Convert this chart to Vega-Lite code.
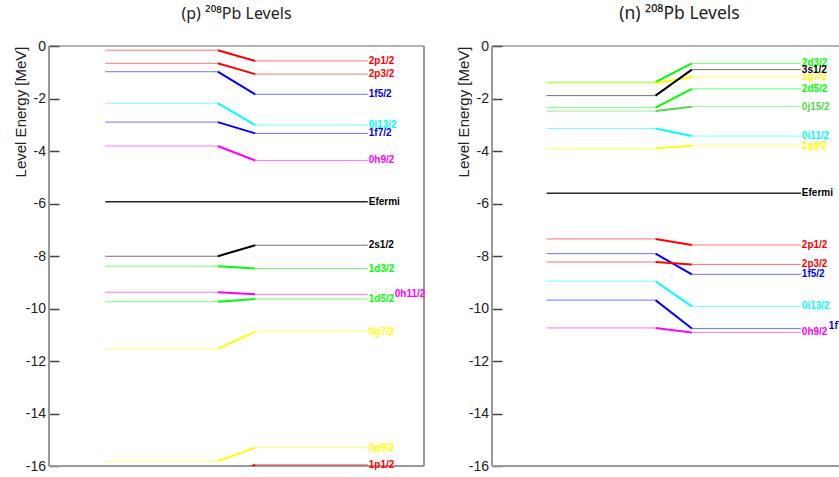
{
  "$schema": "https://vega.github.io/schema/vega-lite/v6.json",
  "padding": {"left": 13, "top": 4, "right": 0, "bottom": 0},
  "spacing": 30,
  "config": {
    "font": "Liberation Sans",
    "view": {"stroke": null},
    "axisY": {"grid": false, "domain": false, "ticks": true, "tickColor": "#444444", "tickWidth": 1.5, "tickSize": 10, "offset": -10, "labelFont": "Liberation Sans", "labelFontSize": 14, "labelColor": "#222222", "labelPadding": 3.5, "titleFont": "Liberation Sans", "titleFontSize": 15, "titleFontWeight": "normal", "titleColor": "#222222", "titleAnchor": "end", "titlePadding": -3},
    "axisX": {"grid": false, "domain": false, "ticks": false, "labels": false},
    "title": {"font": "Noto Sans", "fontSize": 16, "fontWeight": "normal", "color": "#222222", "anchor": "middle", "offset": 17},
    "text": {"font": "Liberation Sans"}
  },
  "datasets": {
    "levels": [
      {"panel": "p", "level": "2p1/2", "l": "p", "left": -0.16, "right": -0.57},
      {"panel": "p", "level": "2p3/2", "l": "p", "left": -0.66, "right": -1.07},
      {"panel": "p", "level": "1f5/2", "l": "f", "left": -0.98, "right": -1.84},
      {"panel": "p", "level": "0i13/2", "l": "i", "left": -2.18, "right": -3.01},
      {"panel": "p", "level": "1f7/2", "l": "f", "left": -2.90, "right": -3.33},
      {"panel": "p", "level": "0h9/2", "l": "h", "left": -3.81, "right": -4.36},
      {"panel": "p", "level": "Efermi", "l": "F", "left": -5.93, "right": -5.93},
      {"panel": "p", "level": "2s1/2", "l": "s", "left": -8.01, "right": -7.59},
      {"panel": "p", "level": "1d3/2", "l": "d", "left": -8.39, "right": -8.48},
      {"panel": "p", "level": "0h11/2", "l": "h", "left": -9.38, "right": -9.46},
      {"panel": "p", "level": "1d5/2", "l": "d", "left": -9.74, "right": -9.64},
      {"panel": "p", "level": "0g7/2", "l": "g", "left": -11.54, "right": -10.88},
      {"panel": "p", "level": "0g9/2", "l": "g", "left": -15.82, "right": -15.30},
      {"panel": "p", "level": "1p1/2", "l": "p", "left": -16.6, "right": -15.95},
      {"panel": "n", "level": "2d3/2", "l": "d", "left": -1.38, "right": -0.66},
      {"panel": "n", "level": "1g7/2", "l": "g", "left": -1.42, "right": -1.18},
      {"panel": "n", "level": "3s1/2", "l": "s", "left": -1.89, "right": -0.90},
      {"panel": "n", "level": "2d5/2", "l": "d", "left": -2.35, "right": -1.63},
      {"panel": "n", "level": "0j15/2", "l": "j", "left": -2.48, "right": -2.31},
      {"panel": "n", "level": "0i11/2", "l": "i", "left": -3.14, "right": -3.43},
      {"panel": "n", "level": "1g9/2", "l": "g", "left": -3.90, "right": -3.80},
      {"panel": "n", "level": "Efermi", "l": "F", "left": -5.61, "right": -5.61},
      {"panel": "n", "level": "2p1/2", "l": "p", "left": -7.35, "right": -7.58},
      {"panel": "n", "level": "1f5/2", "l": "f", "left": -7.91, "right": -8.70},
      {"panel": "n", "level": "2p3/2", "l": "p", "left": -8.23, "right": -8.32},
      {"panel": "n", "level": "0i13/2", "l": "i", "left": -8.96, "right": -9.92},
      {"panel": "n", "level": "1f7/2", "l": "f", "left": -9.68, "right": -10.76},
      {"panel": "n", "level": "0h9/2", "l": "h", "left": -10.74, "right": -10.91}
    ]
  },
  "hconcat": [
    {
      "width": 375,
      "height": 420,
      "title": {"text": "(p)  ²⁰⁸Pb Levels"},
      "data": {"name": "levels"},
      "transform": [{"filter": "datum.panel === 'p'"}],
      "layer": [
        {
          "data": {"values": [{}]},
          "mark": {"type": "rule", "color": "#666666", "strokeWidth": 1},
          "encoding": {
            "y": {"datum": 0, "type": "quantitative", "scale": {"domain": [-16, 0], "nice": false, "zero": false}, "title": "Level Energy [MeV]",
              "axis": {"values": [0, -0.5, -1, -1.5, -2, -2.5, -3, -3.5, -4, -4.5, -5, -5.5, -6, -6.5, -7, -7.5, -8, -8.5, -9, -9.5, -10, -10.5, -11, -11.5, -12, -12.5, -13, -13.5, -14, -14.5, -15, -15.5, -16],
                "labelExpr": "datum.value % 2 === 0 ? '' + datum.value : ''",
                "tickDash": {"condition": {"test": "datum.value % 2 === 0", "value": [10, 0]}, "value": [0, 5, 5, 100]}}}
          }
        },
        {
          "data": {"values": [{}]},
          "mark": {"type": "rule", "color": "#999999", "strokeWidth": 2},
          "encoding": {
            "y": {"datum": -16, "type": "quantitative", "title": "Level Energy [MeV]"}
          }
        },
        {
          "data": {"values": [{}]},
          "mark": {"type": "rule", "color": "#999999", "strokeWidth": 2},
          "encoding": {
            "x": {"datum": 0, "type": "quantitative", "scale": {"domain": [0, 1], "nice": false, "zero": false}}
          }
        },
        {
          "data": {"values": [{}]},
          "mark": {"type": "rule", "color": "#999999", "strokeWidth": 2},
          "encoding": {
            "x": {"datum": 1, "type": "quantitative", "scale": {"domain": [0, 1], "nice": false, "zero": false}}
          }
        },
        {
          "transform": [{"filter": "datum.level !== 'Efermi'"}],
          "mark": {"type": "rule", "strokeWidth": 1, "opacity": 0.55, "clip": true},
          "encoding": {
            "x": {"datum": 0.15, "type": "quantitative", "scale": {"domain": [0, 1], "nice": false, "zero": false}},
            "x2": {"datum": 0.45},
            "y": {"field": "left", "type": "quantitative", "title": "Level Energy [MeV]"},
            "color": {"field": "l", "type": "nominal", "legend": null, "scale": {"domain": ["s", "p", "d", "f", "g", "h", "i", "j", "F"], "range": ["#000000", "#ff0000", "#00ff00", "#0000ff", "#ffff00", "#ff00ff", "#00ffff", "#59d454", "#000000"]}}
          }
        },
        {
          "transform": [{"filter": "datum.level !== 'Efermi'"}],
          "mark": {"type": "rule", "strokeWidth": 1, "opacity": 0.55, "clip": true},
          "encoding": {
            "x": {"datum": 0.55, "type": "quantitative", "scale": {"domain": [0, 1], "nice": false, "zero": false}},
            "x2": {"datum": 0.85},
            "y": {"field": "right", "type": "quantitative", "title": "Level Energy [MeV]"},
            "color": {"field": "l", "type": "nominal", "legend": null, "scale": {"domain": ["s", "p", "d", "f", "g", "h", "i", "j", "F"], "range": ["#000000", "#ff0000", "#00ff00", "#0000ff", "#ffff00", "#ff00ff", "#00ffff", "#59d454", "#000000"]}}
          }
        },
        {
          "transform": [{"filter": "datum.level === 'Efermi'"}],
          "mark": {"type": "rule", "strokeWidth": 1.5, "opacity": 0.85, "clip": true},
          "encoding": {
            "x": {"datum": 0.15, "type": "quantitative", "scale": {"domain": [0, 1], "nice": false, "zero": false}},
            "x2": {"datum": 0.85},
            "y": {"field": "right", "type": "quantitative", "title": "Level Energy [MeV]"},
            "color": {"field": "l", "type": "nominal", "legend": null, "scale": {"domain": ["s", "p", "d", "f", "g", "h", "i", "j", "F"], "range": ["#000000", "#ff0000", "#00ff00", "#0000ff", "#ffff00", "#ff00ff", "#00ffff", "#59d454", "#000000"]}}
          }
        },
        {
          "transform": [{"filter": "datum.level !== 'Efermi'"}],
          "mark": {"type": "rule", "strokeWidth": 2, "clip": true},
          "encoding": {
            "x": {"datum": 0.45, "type": "quantitative", "scale": {"domain": [0, 1], "nice": false, "zero": false}},
            "x2": {"datum": 0.55},
            "y": {"field": "left", "type": "quantitative", "title": "Level Energy [MeV]"},
            "y2": {"field": "right"},
            "color": {"field": "l", "type": "nominal", "legend": null, "scale": {"domain": ["s", "p", "d", "f", "g", "h", "i", "j", "F"], "range": ["#000000", "#ff0000", "#00ff00", "#0000ff", "#ffff00", "#ff00ff", "#00ffff", "#59d454", "#000000"]}}
          }
        },
        {
          "transform": [{"filter": "datum.level !== '0h11/2'"}],
          "mark": {"type": "text", "align": "left", "baseline": "middle", "dx": 1, "fontSize": 10, "fontWeight": "bold"},
          "encoding": {
            "x": {"datum": 0.85, "type": "quantitative", "scale": {"domain": [0, 1], "nice": false, "zero": false}},
            "y": {"field": "right", "type": "quantitative", "title": "Level Energy [MeV]"},
            "text": {"field": "level"},
            "color": {"field": "l", "type": "nominal", "legend": null, "scale": {"domain": ["s", "p", "d", "f", "g", "h", "i", "j", "F"], "range": ["#000000", "#ff0000", "#00ff00", "#0000ff", "#ffff00", "#ff00ff", "#00ffff", "#59d454", "#000000"]}}
          }
        },
        {
          "transform": [{"filter": "datum.level === '0h11/2'"}],
          "mark": {"type": "text", "align": "left", "baseline": "middle", "dx": 27, "fontSize": 10, "fontWeight": "bold"},
          "encoding": {
            "x": {"datum": 0.85, "type": "quantitative", "scale": {"domain": [0, 1], "nice": false, "zero": false}},
            "y": {"field": "right", "type": "quantitative", "title": "Level Energy [MeV]"},
            "text": {"field": "level"},
            "color": {"field": "l", "type": "nominal", "legend": null, "scale": {"domain": ["s", "p", "d", "f", "g", "h", "i", "j", "F"], "range": ["#000000", "#ff0000", "#00ff00", "#0000ff", "#ffff00", "#ff00ff", "#00ffff", "#59d454", "#000000"]}}
          }
        }
      ]
    },
    {
      "width": 347,
      "height": 420,
      "title": {"text": "(n)  ²⁰⁸Pb Levels", "dx": 14, "fontSize": 17.5},
      "data": {"name": "levels"},
      "transform": [{"filter": "datum.panel === 'n'"}],
      "layer": [
        {
          "data": {"values": [{}]},
          "mark": {"type": "rule", "color": "#666666", "strokeWidth": 1},
          "encoding": {
            "y": {"datum": 0, "type": "quantitative", "scale": {"domain": [-16, 0], "nice": false, "zero": false}, "title": "Level Energy [MeV]",
              "axis": {"values": [0, -0.5, -1, -1.5, -2, -2.5, -3, -3.5, -4, -4.5, -5, -5.5, -6, -6.5, -7, -7.5, -8, -8.5, -9, -9.5, -10, -10.5, -11, -11.5, -12, -12.5, -13, -13.5, -14, -14.5, -15, -15.5, -16],
                "labelExpr": "datum.value % 2 === 0 ? '' + datum.value : ''",
                "tickDash": {"condition": {"test": "datum.value % 2 === 0", "value": [10, 0]}, "value": [0, 5, 5, 100]}}}
          }
        },
        {
          "data": {"values": [{}]},
          "mark": {"type": "rule", "color": "#999999", "strokeWidth": 2},
          "encoding": {
            "y": {"datum": -16, "type": "quantitative", "title": "Level Energy [MeV]"}
          }
        },
        {
          "data": {"values": [{}]},
          "mark": {"type": "rule", "color": "#999999", "strokeWidth": 2},
          "encoding": {
            "x": {"datum": 0, "type": "quantitative", "scale": {"domain": [0, 0.955], "nice": false, "zero": false}}
          }
        },
        {
          "transform": [{"filter": "datum.level !== 'Efermi'"}],
          "mark": {"type": "rule", "strokeWidth": 1, "opacity": 0.55, "clip": true},
          "encoding": {
            "x": {"datum": 0.15, "type": "quantitative", "scale": {"domain": [0, 0.955], "nice": false, "zero": false}},
            "x2": {"datum": 0.45},
            "y": {"field": "left", "type": "quantitative", "title": "Level Energy [MeV]"},
            "color": {"field": "l", "type": "nominal", "legend": null, "scale": {"domain": ["s", "p", "d", "f", "g", "h", "i", "j", "F"], "range": ["#000000", "#ff0000", "#00ff00", "#0000ff", "#ffff00", "#ff00ff", "#00ffff", "#59d454", "#000000"]}}
          }
        },
        {
          "transform": [{"filter": "datum.level !== 'Efermi'"}],
          "mark": {"type": "rule", "strokeWidth": 1, "opacity": 0.55, "clip": true},
          "encoding": {
            "x": {"datum": 0.55, "type": "quantitative", "scale": {"domain": [0, 0.955], "nice": false, "zero": false}},
            "x2": {"datum": 0.85},
            "y": {"field": "right", "type": "quantitative", "title": "Level Energy [MeV]"},
            "color": {"field": "l", "type": "nominal", "legend": null, "scale": {"domain": ["s", "p", "d", "f", "g", "h", "i", "j", "F"], "range": ["#000000", "#ff0000", "#00ff00", "#0000ff", "#ffff00", "#ff00ff", "#00ffff", "#59d454", "#000000"]}}
          }
        },
        {
          "transform": [{"filter": "datum.level === 'Efermi'"}],
          "mark": {"type": "rule", "strokeWidth": 1.5, "opacity": 0.85, "clip": true},
          "encoding": {
            "x": {"datum": 0.15, "type": "quantitative", "scale": {"domain": [0, 0.955], "nice": false, "zero": false}},
            "x2": {"datum": 0.85},
            "y": {"field": "right", "type": "quantitative", "title": "Level Energy [MeV]"},
            "color": {"field": "l", "type": "nominal", "legend": null, "scale": {"domain": ["s", "p", "d", "f", "g", "h", "i", "j", "F"], "range": ["#000000", "#ff0000", "#00ff00", "#0000ff", "#ffff00", "#ff00ff", "#00ffff", "#59d454", "#000000"]}}
          }
        },
        {
          "transform": [{"filter": "datum.level !== 'Efermi'"}],
          "mark": {"type": "rule", "strokeWidth": 2, "clip": true},
          "encoding": {
            "x": {"datum": 0.45, "type": "quantitative", "scale": {"domain": [0, 0.955], "nice": false, "zero": false}},
            "x2": {"datum": 0.55},
            "y": {"field": "left", "type": "quantitative", "title": "Level Energy [MeV]"},
            "y2": {"field": "right"},
            "color": {"field": "l", "type": "nominal", "legend": null, "scale": {"domain": ["s", "p", "d", "f", "g", "h", "i", "j", "F"], "range": ["#000000", "#ff0000", "#00ff00", "#0000ff", "#ffff00", "#ff00ff", "#00ffff", "#59d454", "#000000"]}}
          }
        },
        {
          "transform": [{"filter": "datum.level !== '1f7/2'"}],
          "mark": {"type": "text", "align": "left", "baseline": "middle", "dx": 1, "fontSize": 10, "fontWeight": "bold", "clip": true},
          "encoding": {
            "x": {"datum": 0.85, "type": "quantitative", "scale": {"domain": [0, 0.955], "nice": false, "zero": false}},
            "y": {"field": "right", "type": "quantitative", "title": "Level Energy [MeV]"},
            "text": {"field": "level"},
            "color": {"field": "l", "type": "nominal", "legend": null, "scale": {"domain": ["s", "p", "d", "f", "g", "h", "i", "j", "F"], "range": ["#000000", "#ff0000", "#00ff00", "#0000ff", "#ffff00", "#ff00ff", "#00ffff", "#59d454", "#000000"]}}
          }
        },
        {
          "transform": [{"filter": "datum.level === '1f7/2'"}],
          "mark": {"type": "text", "align": "left", "baseline": "middle", "dx": 28, "dy": -2, "fontSize": 10, "fontWeight": "bold", "clip": true},
          "encoding": {
            "x": {"datum": 0.85, "type": "quantitative", "scale": {"domain": [0, 0.955], "nice": false, "zero": false}},
            "y": {"field": "right", "type": "quantitative", "title": "Level Energy [MeV]"},
            "text": {"field": "level"},
            "color": {"field": "l", "type": "nominal", "legend": null, "scale": {"domain": ["s", "p", "d", "f", "g", "h", "i", "j", "F"], "range": ["#000000", "#ff0000", "#00ff00", "#0000ff", "#ffff00", "#ff00ff", "#00ffff", "#59d454", "#000000"]}}
          }
        }
      ]
    }
  ]
}
